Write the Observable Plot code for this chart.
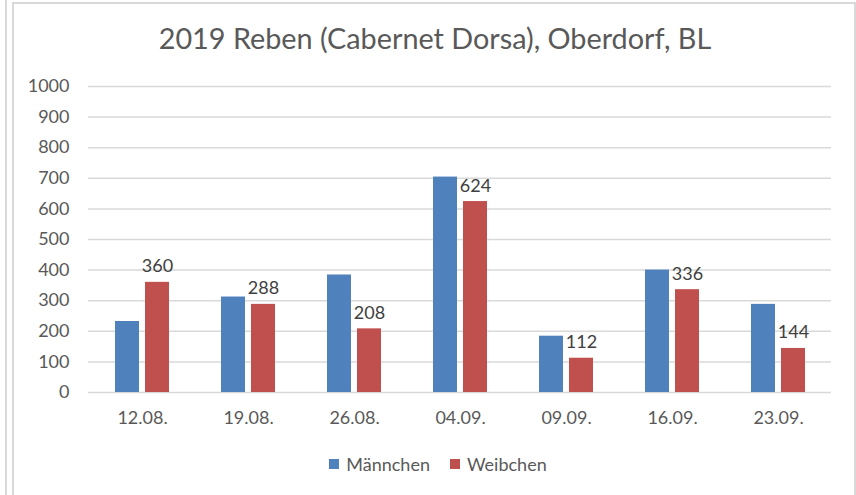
<!DOCTYPE html>
<html>
<head>
<meta charset="utf-8">
<script src="https://cdn.jsdelivr.net/npm/d3@7"></script>
<script src="https://cdn.jsdelivr.net/npm/@observablehq/plot@0.6"></script>
<style>
  html, body { margin: 0; padding: 0; background: #fff; }
  #page { position: relative; width: 856px; height: 495px; overflow: hidden; font-family: Lato, "Open Sans", sans-serif; }
  #line1 { position: absolute; left: 5px; top: 0; width: 2px; height: 495px; background: #d9d9d9; }
  #frame { position: absolute; left: 12px; top: 2px; width: 840px; height: 520px; border: 2px solid #d9d9d9; }
  #title { position: absolute; left: 0; width: 870px; top: 21px; text-align: center; font-size: 28.8px; color: #595959; line-height: 34px; white-space: nowrap; }
  #chart { position: absolute; left: 0; top: 0; }
  #legend { position: absolute; left: 0; width: 876px; top: 453px; display: flex; justify-content: center; gap: 20px; font-size: 18px; color: #595959; line-height: 22px; }
  .item { display: flex; align-items: center; gap: 7px; }
  .sw { width: 10px; height: 10px; display: inline-block; }
</style>
</head>
<body>
<div id="page">
  <div id="line1"></div>
  <div id="frame"></div>
  <div id="title"></div>
  <div id="chart"></div>
  <div id="legend"></div>
</div>
<script>
const titleText = "2019 Reben (Cabernet Dorsa), Oberdorf, BL";
const dates = ["12.08.", "19.08.", "26.08.", "04.09.", "09.09.", "16.09.", "23.09."];
const maennchen = [232, 312, 384, 704, 184, 400, 288];
const weibchen = [360, 288, 208, 624, 112, 336, 144];
const seriesNames = ["Männchen", "Weibchen"];
const seriesColors = ["#4F81BD", "#C0504D"];
const yTicks = [0, 100, 200, 300, 400, 500, 600, 700, 800, 900, 1000];

const mData = dates.map((d, i) => ({date: d, sex: seriesNames[0], value: maennchen[i]}));
const wData = dates.map((d, i) => ({date: d, sex: seriesNames[1], value: weibchen[i]}));

document.getElementById("title").textContent = titleText;

const chart = Plot.plot({
  width: 856,
  height: 440,
  marginLeft: 88,
  marginRight: 25,
  marginTop: 86,
  marginBottom: 48,
  style: {fontFamily: "Lato, 'Open Sans', sans-serif", fontSize: "18px", color: "#595959", background: "transparent"},
  x: {domain: dates, paddingInner: 0.491, paddingOuter: 0.2456, label: null},
  y: {domain: [0, 1000], label: null},
  color: {domain: seriesNames, range: seriesColors},
  marks: [
    Plot.ruleY(yTicks, {stroke: "#d9d9d9", strokeWidth: 1.5}),
    Plot.barY(mData, {x: "date", y: "value", fill: "sex", insetRight: 30}),
    Plot.barY(wData, {x: "date", y: "value", fill: "sex", insetLeft: 30}),
    Plot.text(wData, {x: "date", y: "value", text: d => String(d.value), dx: 15, dy: -10, lineAnchor: "bottom", fill: "#404040", fontSize: 18}),
    Plot.axisY({ticks: yTicks, tickSize: 0, tickPadding: 19, tickFormat: d => String(d), fill: "#595959", label: null}),
    Plot.axisX({tickSize: 0, tickPadding: 19, fill: "#595959", label: null})
  ]
});
document.getElementById("chart").appendChild(chart);

const legend = document.getElementById("legend");
seriesNames.forEach((n, i) => {
  const it = document.createElement("div");
  it.className = "item";
  const sw = document.createElement("span");
  sw.className = "sw";
  sw.style.background = seriesColors[i];
  const tx = document.createElement("span");
  tx.textContent = n;
  it.appendChild(sw);
  it.appendChild(tx);
  legend.appendChild(it);
});
</script>
</body>
</html>
